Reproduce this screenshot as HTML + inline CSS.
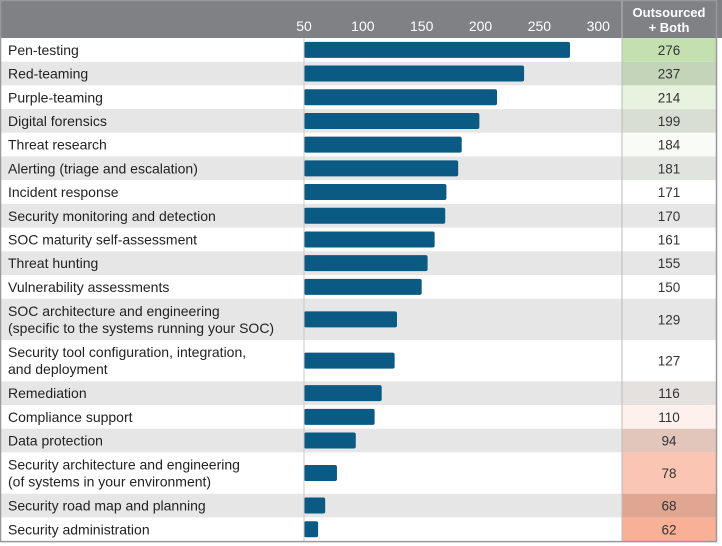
<!DOCTYPE html>
<html><head><meta charset="utf-8"><style>
body{margin:0;background:#fff;width:722px;height:546px;overflow:hidden;font-family:"Liberation Sans",sans-serif}
#c{position:absolute;left:0;top:0}
</style></head><body>
<svg id="c" width="722" height="546"></svg>
<script>
const categories=["Pen-testing","Red-teaming","Purple-teaming","Digital forensics","Threat research","Alerting (triage and escalation)","Incident response","Security monitoring and detection","SOC maturity self-assessment","Threat hunting","Vulnerability assessments","SOC architecture and engineering|(specific to the systems running your SOC)","Security tool configuration, integration,|and deployment","Remediation","Compliance support","Data protection","Security architecture and engineering|(of systems in your environment)","Security road map and planning","Security administration"];
const values=[276,237,214,199,184,181,171,170,161,155,150,129,127,116,110,94,78,68,62];
const ticks=[50,100,150,200,250,300];
const NS="http://www.w3.org/2000/svg";
const svg=document.getElementById('c');
function mk(t,a,p){const e=document.createElementNS(NS,t);for(const k in a)e.setAttribute(k,a[k]);(p||svg).appendChild(e);return e;}
const x0=304,scale=1.177;
function X(v){return x0+(v-50)*scale;}
const hdr=mk('rect',{x:0,y:0,width:722,height:38,fill:'#808185'});


ticks.forEach(t=>{const e=mk('text',{x:X(t),y:31,'text-anchor':'middle','font-size':14,fill:'#fff'});e.textContent=t;

});
const h1=mk('text',{x:669,y:17,'text-anchor':'middle','font-size':13,'font-weight':'bold',fill:'#fff'});h1.textContent='Outsourced';


const h2=mk('text',{x:669,y:32,'text-anchor':'middle','font-size':13,'font-weight':'bold',fill:'#fff'});h2.textContent='+ Both';


function col(v,gray){let c;const hi=[196,224,176],lo=[248,176,150],w=[255,255,255];
if(v>=172){const t=Math.min(1,(v-172)/104);c=w.map((a,i)=>a+(hi[i]-a)*t);}
else if(v>=120){c=w;}
else{const t=Math.min(1,(120-v)/58);c=w.map((a,i)=>a+(lo[i]-a)*t);}
if(gray)c=c.map(a=>a*0.9);return 'rgb('+c.map(Math.round).join(',')+')';}
let y=38;
categories.forEach((c,i)=>{
 const lines=c.split('|');const h=lines.length>1?41.3:23.7;const gray=i%2==1;
 const r=mk('rect',{x:0,y:y,width:622,height:h,fill:gray?'#e6e6e6':'#fff'});
 
 
 const vc=mk('rect',{x:622,y:y,width:94,height:h,fill:col(values[i],gray)});
 
 
 const cy=y+h/2;
 lines.forEach((l,j)=>{const t=mk('text',{x:8,y:cy+5+(lines.length>1?(j-0.5)*17:0),'font-size':14,fill:'#222'});t.textContent=l;
 
 });
 const b=mk('rect',{x:x0,y:cy-8,width:X(values[i])-x0,height:16,rx:2,fill:'#0b5a84'});
 
 
 const vt=mk('text',{x:669,y:cy+5,'text-anchor':'middle','font-size':13.5,fill:'#333'});vt.textContent=values[i];
 
 
 y+=h;});
const ax=mk('line',{x1:x0,y1:38,x2:x0,y2:y,stroke:'#c8c8c8','stroke-width':1});


const sep=mk('line',{x1:622,y1:0,x2:622,y2:y,stroke:'#bbb','stroke-width':1});


const bd=mk('rect',{x:0.5,y:0.5,width:716,height:y,fill:'none',stroke:'#999','stroke-width':1.5});


</script>
</body></html>
